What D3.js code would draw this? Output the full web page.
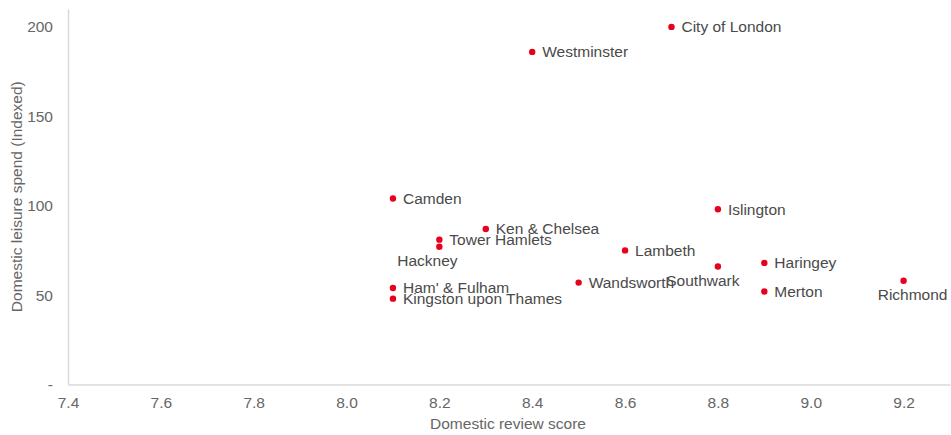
<!DOCTYPE html>
<html>
<head>
<meta charset="utf-8">
<script src="https://cdn.jsdelivr.net/npm/d3@7"></script>
<style>
  html, body { margin: 0; padding: 0; background: #fff; }
  svg { display: block; font-family: "Liberation Sans", Arial, sans-serif; }
</style>
</head>
<body>
<svg id="chart" width="951" height="435"></svg>
<script>
// ---- data ----
const boroughs = ["City of London", "Westminster", "Camden", "Ken & Chelsea", "Tower Hamlets", "Hackney",
  "Lambeth", "Islington", "Southwark", "Haringey", "Merton", "Richmond", "Wandsworth",
  "Ham' & Fulham", "Kingston upon Thames"];
const reviewScore = [8.7, 8.4, 8.1, 8.3, 8.2, 8.2, 8.6, 8.8, 8.8, 8.9, 8.9, 9.2, 8.5, 8.1, 8.1];
const leisureSpend = [200, 186, 104, 87, 81, 77, 75, 98, 66, 68, 52, 58, 57, 54, 48];
const xTicks = [7.4, 7.6, 7.8, 8.0, 8.2, 8.4, 8.6, 8.8, 9.0, 9.2];
const yTicks = [0, 50, 100, 150, 200];

// label placement (style config)
const belowLabels = { "Hackney": -12, "Southwark": -15, "Richmond": 9 };

const svg = d3.select("#chart");
const x = d3.scaleLinear().domain([7.4, 9.3]).range([68, 950]);
const y = d3.scaleLinear().domain([0, 210]).range([384.5, 9]);

const tickColor = "#666666";
const fontSize = "15.5px";

// axes
const xAxis = svg.append("g").attr("transform", `translate(0,${y(0)})`)
  .call(d3.axisBottom(x).tickValues(xTicks).tickSize(0).tickPadding(12).tickFormat(d3.format(".1f")));
xAxis.select(".domain").attr("stroke", "#d9d9d9").attr("stroke-width", 1.5);
xAxis.selectAll("text").attr("fill", tickColor).style("font-size", fontSize).attr("font-family", null);

const yAxis = svg.append("g").attr("transform", `translate(${x(7.4)},0)`)
  .call(d3.axisLeft(y).tickValues(yTicks).tickSize(0).tickPadding(15).tickFormat(d => d === 0 ? "-" : d));
yAxis.select(".domain").attr("stroke", "#d9d9d9").attr("stroke-width", 1.5);
yAxis.selectAll("text").attr("fill", tickColor).style("font-size", fontSize).attr("font-family", null);

// axis titles
svg.append("text").attr("x", (x(7.4) + x(9.3)) / 2 - 1).attr("y", 429)
  .attr("text-anchor", "middle").attr("fill", tickColor).style("font-size", fontSize)
  .text("Domestic review score");
svg.append("text").attr("transform", `translate(22,${(y(0) + y(210)) / 2}) rotate(-90)`)
  .attr("text-anchor", "middle").attr("fill", tickColor).style("font-size", fontSize)
  .text("Domestic leisure spend (Indexed)");

// points
const pts = boroughs.map((name, i) => ({ name, x: reviewScore[i], y: leisureSpend[i] }));
svg.append("g").selectAll("circle").data(pts).join("circle")
  .attr("cx", d => x(d.x)).attr("cy", d => y(d.y)).attr("r", 3.2).attr("fill", "#e8001c");

svg.append("g").selectAll("text").data(pts).join("text")
  .attr("x", d => d.name in belowLabels ? x(d.x) + belowLabels[d.name] : x(d.x) + 10)
  .attr("y", d => d.name in belowLabels ? y(d.y) + 14 : y(d.y))
  .attr("dy", "0.35em")
  .attr("text-anchor", d => d.name in belowLabels ? "middle" : "start")
  .attr("fill", "#4a4a4a").style("font-size", fontSize)
  .text(d => d.name);
</script>
</body>
</html>
